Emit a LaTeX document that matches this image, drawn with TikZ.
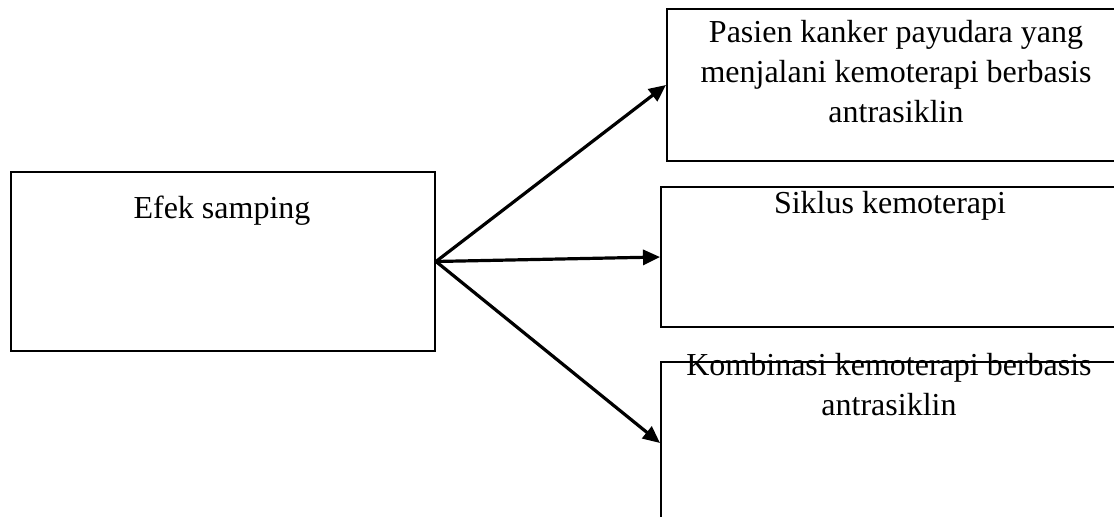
\documentclass[tikz,border=0pt]{standalone}
\usepackage{fontspec}
\setmainfont{Liberation Serif}
\usetikzlibrary{arrows.meta}
\tikzset{
  box/.style={draw=black, line width=1pt, rectangle, inner sep=0pt, anchor=north west},
  txt/.style={anchor=north, inner sep=0pt, align=center, font=\fontsize{16}{20}\selectfont},
  conn/.style={line width=1.6pt, -{Triangle[length=8.5pt,width=7.5pt]}}
}
\begin{document}
\begin{tikzpicture}[x=0.5pt,y=-0.5pt]
\useasboundingbox (0,0) rectangle (1114,517);
\clip (0,0) rectangle (1114,517);
% boxes
\node[box, minimum width=212pt, minimum height=89.5pt] (L) at (10,171) {};
\node[box, minimum width=227pt, minimum height=76pt] (B1) at (666,8) {};
\node[box, minimum width=230pt, minimum height=70pt] (B2) at (660,186) {};
\node[box, minimum width=230pt, minimum height=81pt] (B3) at (660,361) {};
% texts
\node[txt] (tL) at (222,196) {Efek samping};
\node[txt] (t1) at (896,20) {Pasien kanker payudara yang\\menjalani kemoterapi berbasis\\antrasiklin};
\node[txt] (t2) at (890,191) {Siklus kemoterapi};
\node[txt] (t3) at (889,353) {Kombinasi kemoterapi berbasis\\antrasiklin};
% connectors
\draw[conn] (L.east) -- (B1.west);
\draw[conn] (L.east) -- (B2.west);
\draw[conn] (L.east) -- (B3.west);
\end{tikzpicture}
\end{document}
